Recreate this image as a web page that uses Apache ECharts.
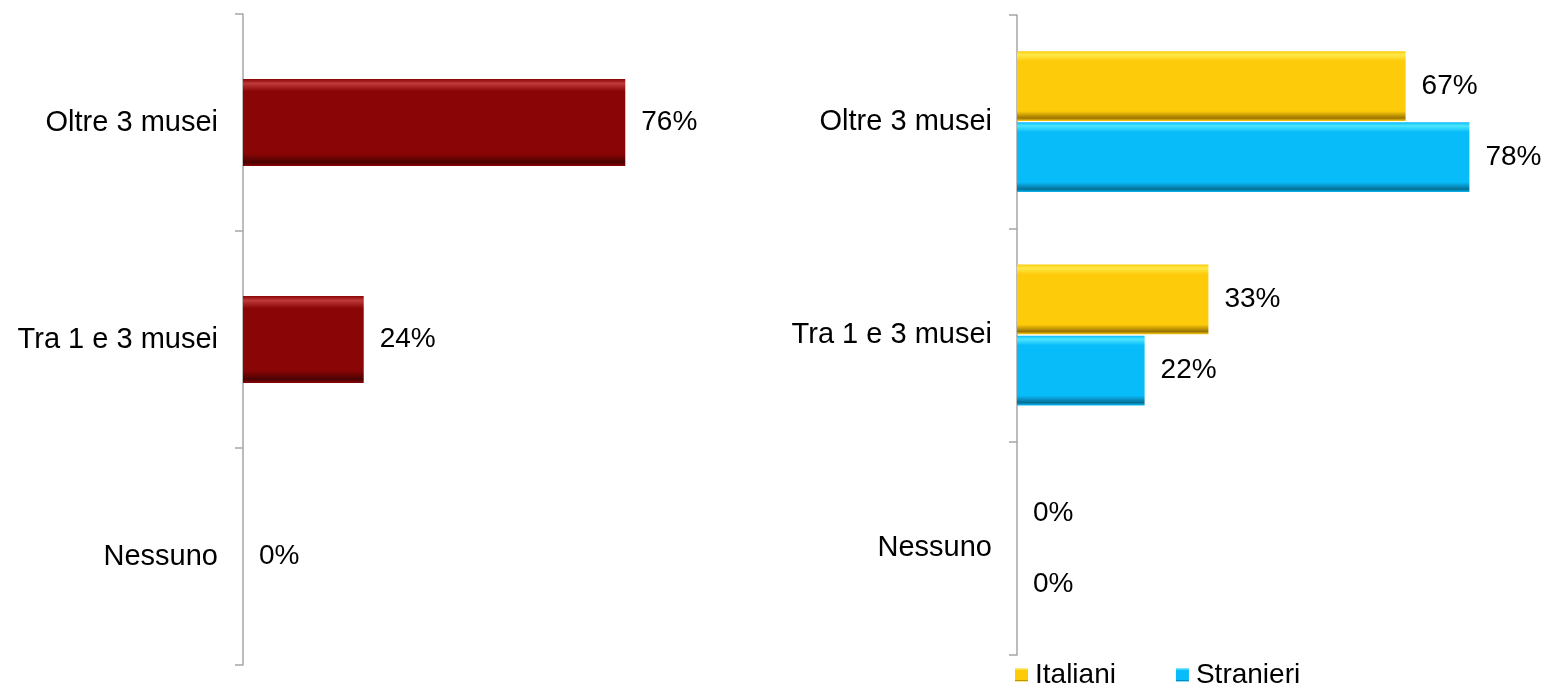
<!DOCTYPE html>
<html>
<head>
<meta charset="utf-8">
<script src="https://cdn.jsdelivr.net/npm/echarts@6/dist/echarts.min.js"></script>
<style>
  html, body { margin: 0; padding: 0; background: #ffffff; }
  #chart { width: 1542px; height: 684px; }
</style>
</head>
<body>
<div id="chart"></div>
<script>
// Categories (top to bottom)
const categories = ['Oltre 3 musei', 'Tra 1 e 3 musei', 'Nessuno'];
// Overall share of visitors (%)
const totale = [76, 24, 0];
// Split by origin (%)
const italiani = [67, 33, 0];
const stranieri = [78, 22, 0];
const seriesNames = ['Italiani', 'Stranieri'];

// Bevel-like vertical shading for a flat bar colour
function bevel(light, base, dark) {
  return new echarts.graphic.LinearGradient(0, 0, 0, 1, [
    { offset: 0, color: base },
    { offset: 0.05, color: light },
    { offset: 0.14, color: base },
    { offset: 0.86, color: base },
    { offset: 0.96, color: dark },
    { offset: 1, color: base }
  ]);
}

const font = 'Liberation Sans, Arial, sans-serif';
const pct = p => p.value + '%';

const catAxis = (gridIndex) => ({
  type: 'category',
  gridIndex: gridIndex,
  data: categories,
  inverse: true,
  axisLine: { lineStyle: { color: '#a6a6a6', width: 1.5 } },
  axisTick: { show: true, length: 8, lineStyle: { color: '#a6a6a6', width: 1.5 } },
  axisLabel: { color: '#000', fontSize: 29, fontFamily: font, margin: 25 }
});

const valAxis = (gridIndex, max) => ({
  type: 'value',
  gridIndex: gridIndex,
  min: 0,
  max: max,
  show: false,
  splitLine: { show: false }
});

const barLabel = {
  show: true,
  position: 'right',
  distance: 16,
  color: '#000',
  fontSize: 28,
  fontFamily: font,
  formatter: pct
};

const option = {
  backgroundColor: '#ffffff',
  animation: false,
  grid: [
    { left: 243, top: 14, width: 503, bottom: 19 },
    { left: 1017, top: 15, width: 522, bottom: 29 }
  ],
  xAxis: [valAxis(0, 100), valAxis(1, 90)],
  yAxis: [catAxis(0), catAxis(1)],
  legend: {
    data: seriesNames,
    left: 1015,
    top: 661,
    padding: 0,
    itemWidth: 13,
    itemHeight: 13,
    itemGap: 60,
    icon: 'rect',
    textStyle: { color: '#000', fontSize: 28, fontFamily: font, padding: [0, 0, 0, 2] }
  },
  series: [
    {
      name: 'Totale',
      type: 'bar',
      xAxisIndex: 0,
      yAxisIndex: 0,
      data: totale,
      barCategoryGap: '60%',
      itemStyle: { color: bevel('#c0393a', '#8a0505', '#4a0202') },
      label: barLabel
    },
    {
      name: seriesNames[0],
      type: 'bar',
      xAxisIndex: 1,
      yAxisIndex: 1,
      data: italiani,
      barGap: '2%',
      barCategoryGap: '34%',
      itemStyle: { color: bevel('#ffe94a', '#fecb0a', '#9a7400') },
      label: barLabel
    },
    {
      name: seriesNames[1],
      type: 'bar',
      xAxisIndex: 1,
      yAxisIndex: 1,
      data: stranieri,
      barGap: '2%',
      barCategoryGap: '34%',
      itemStyle: { color: bevel('#4de6ff', '#08bbf9', '#066f95') },
      label: barLabel
    }
  ]
};

const chart = echarts.init(document.getElementById('chart'), null, { renderer: 'canvas' });
chart.setOption(option);
</script>
</body>
</html>
